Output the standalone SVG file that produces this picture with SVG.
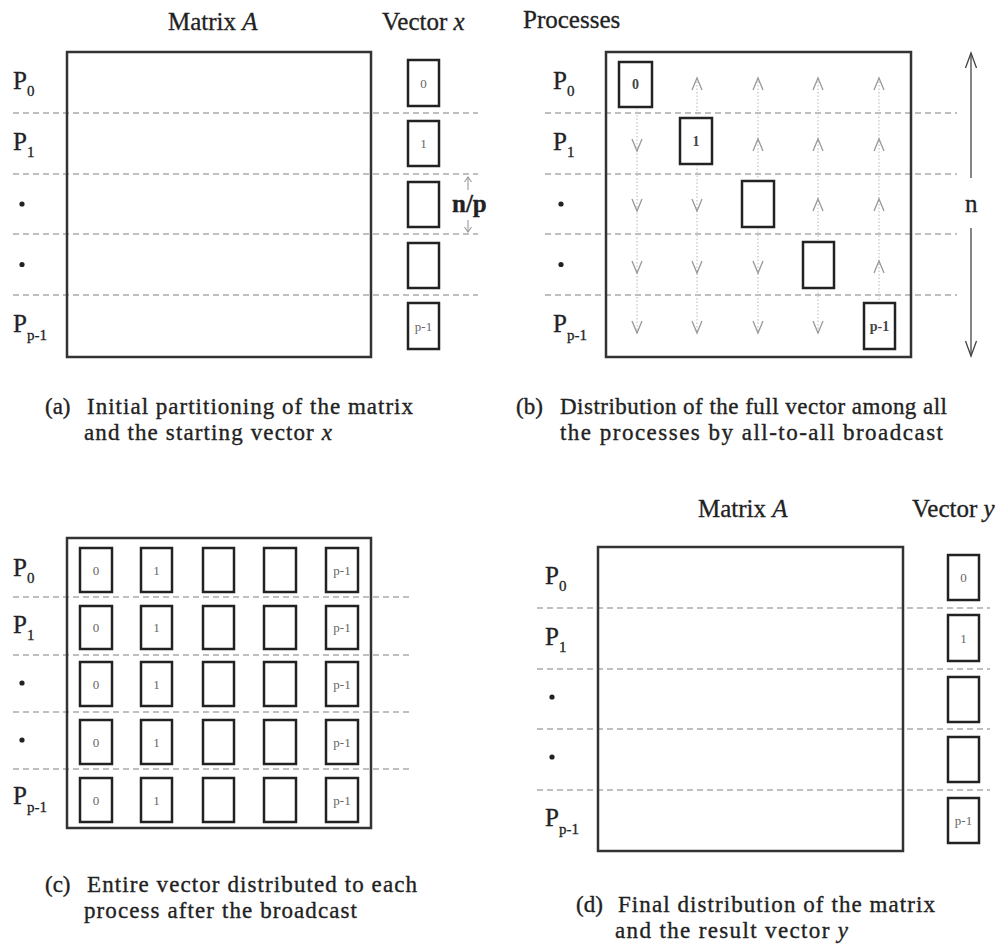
<svg xmlns="http://www.w3.org/2000/svg" width="1003" height="951" viewBox="0 0 1003 951">
<style>
.frame{fill:none;stroke:#333;stroke-width:2.5}
.box{fill:#fff;stroke:#222;stroke-width:2.5}
.dash{stroke:#aaa;stroke-width:1.5;stroke-dasharray:6 4}
.t{font-family:"Liberation Serif","Times New Roman",serif;fill:#222}
.lbl{font-size:25px;stroke:#222;stroke-width:0.3}
.sub{font-size:15px}
.num{font-size:13px;fill:#666;text-anchor:middle}
.numb{font-size:14px;fill:#444;text-anchor:middle;font-weight:bold}
.cap{font-size:23px;stroke:#222;stroke-width:0.35}
.chev{fill:none;stroke:#999;stroke-width:1.3}
.vdot{stroke:#c4c4c4;stroke-width:1.2;stroke-dasharray:1.5 2}
.dim{fill:none;stroke:#444;stroke-width:1.3}
.gdim{fill:none;stroke:#999;stroke-width:1.1}
.bul{fill:#222}
</style>
<rect width="1003" height="951" fill="#fff"/>

<!-- Panel (a) -->
<g id="panel-a">
  <g id="a-rows">
    <line class="dash" x1="13" y1="113" x2="478" y2="113"/>
    <line class="dash" x1="13" y1="174" x2="478" y2="174"/>
    <line class="dash" x1="13" y1="234" x2="478" y2="234"/>
    <line class="dash" x1="13" y1="295" x2="478" y2="295"/>
  </g>
  <g id="a-matrix"><rect class="frame" x="67" y="52" width="304" height="305"/></g>
  <text class="t lbl" x="168" y="30">Matrix <tspan font-style="italic">A</tspan></text>
  <text class="t lbl" x="382" y="30">Vector <tspan font-style="italic">x</tspan></text>
  <text class="t lbl" x="13" y="89">P<tspan class="sub" dy="7">0</tspan></text>
  <text class="t lbl" x="13" y="150">P<tspan class="sub" dy="7">1</tspan></text>
  <circle class="bul" cx="22" cy="204" r="2.6"/>
  <circle class="bul" cx="22" cy="264.5" r="2.6"/>
  <text class="t lbl" x="13" y="332">P<tspan class="sub" dy="8">p-1</tspan></text>
  <g id="a-x0"><rect class="box" x="408" y="60" width="31" height="46"/><text class="t num" x="423.5" y="88">0</text></g>
  <g id="a-x1"><rect class="box" x="408" y="121" width="31" height="45"/><text class="t num" x="423.5" y="148">1</text></g>
  <g id="a-x2"><rect class="box" x="408" y="182" width="31" height="45"/></g>
  <g id="a-x3"><rect class="box" x="408" y="243" width="31" height="45"/></g>
  <g id="a-x4"><rect class="box" x="408" y="303" width="31" height="46"/><text class="t num" x="423.5" y="331">p-1</text></g>
  <g id="a-np">
    <text class="t lbl" x="452" y="212" font-weight="bold">n/p</text>
  </g>
  <text class="t cap" x="45" y="414">(a)</text>
  <text class="t cap" x="87" y="414" textLength="326" lengthAdjust="spacing">Initial partitioning of the matrix</text>
  <text class="t cap" x="84" y="439.5" textLength="248" lengthAdjust="spacing">and the starting vector <tspan font-style="italic">x</tspan></text>
</g>

<!-- Panel (b) -->
<g id="panel-b">
  <g id="b-rows">
    <line class="dash" x1="545" y1="113" x2="957" y2="113"/>
    <line class="dash" x1="545" y1="174" x2="957" y2="174"/>
    <line class="dash" x1="545" y1="234" x2="957" y2="234"/>
    <line class="dash" x1="545" y1="295" x2="957" y2="295"/>
  </g>
  <g id="b-matrix"><rect class="frame" x="606" y="52" width="305" height="305"/></g>
  <text class="t lbl" x="523" y="28">Processes</text>
  <text class="t lbl" x="553" y="89">P<tspan class="sub" dy="7">0</tspan></text>
  <text class="t lbl" x="553" y="150">P<tspan class="sub" dy="7">1</tspan></text>
  <circle class="bul" cx="561" cy="204" r="2.6"/>
  <circle class="bul" cx="561" cy="264.5" r="2.6"/>
  <text class="t lbl" x="553" y="332">P<tspan class="sub" dy="8">p-1</tspan></text>
  <g id="b-x0"><rect class="box" x="619" y="62" width="33" height="45"/><text class="t numb" x="635.5" y="89">0</text></g>
  <g id="b-x1"><rect class="box" x="680" y="118" width="32" height="46"/><text class="t numb" x="696" y="146">1</text></g>
  <g id="b-x2"><rect class="box" x="742" y="181" width="32" height="46"/></g>
  <g id="b-x3"><rect class="box" x="803" y="242" width="31" height="46"/></g>
  <g id="b-x4"><rect class="box" x="864" y="303" width="31" height="46"/><text class="t numb" x="879.5" y="331">p-1</text></g>
  <text class="t lbl" x="965" y="212">n</text>
  <text class="t cap" x="516" y="414">(b)</text>
  <text class="t cap" x="560" y="414" textLength="387" lengthAdjust="spacing">Distribution of the full vector among all</text>
  <text class="t cap" x="560" y="439.5" textLength="383" lengthAdjust="spacing">the processes by all-to-all broadcast</text>
</g>

<!-- Panel (c) -->
<g id="panel-c">
  <g id="c-rows">
    <line class="dash" x1="13" y1="597" x2="413" y2="597"/>
    <line class="dash" x1="13" y1="655" x2="413" y2="655"/>
    <line class="dash" x1="13" y1="712" x2="413" y2="712"/>
    <line class="dash" x1="13" y1="769" x2="413" y2="769"/>
  </g>
  <g id="c-matrix"><rect class="frame" x="67" y="538" width="304" height="290"/></g>
  <text class="t lbl" x="13" y="576">P<tspan class="sub" dy="7">0</tspan></text>
  <text class="t lbl" x="13" y="633">P<tspan class="sub" dy="7">1</tspan></text>
  <circle class="bul" cx="22" cy="683" r="2.6"/>
  <circle class="bul" cx="22" cy="740" r="2.6"/>
  <text class="t lbl" x="13" y="804">P<tspan class="sub" dy="8">p-1</tspan></text>
  <g id="c-row0">
    <rect class="box" x="80" y="548" width="32" height="44"/><text class="t num" x="96" y="575">0</text>
    <rect class="box" x="141" y="548" width="31" height="44"/><text class="t num" x="156.5" y="575">1</text>
    <rect class="box" x="203" y="548" width="31" height="44"/>
    <rect class="box" x="264" y="548" width="32" height="44"/>
    <rect class="box" x="326" y="548" width="32" height="44"/><text class="t num" x="342" y="575">p-1</text>
  </g>
  <g id="c-row1">
    <rect class="box" x="80" y="606" width="32" height="43"/><text class="t num" x="96" y="632">0</text>
    <rect class="box" x="141" y="606" width="31" height="43"/><text class="t num" x="156.5" y="632">1</text>
    <rect class="box" x="203" y="606" width="31" height="43"/>
    <rect class="box" x="264" y="606" width="32" height="43"/>
    <rect class="box" x="326" y="606" width="32" height="43"/><text class="t num" x="342" y="632">p-1</text>
  </g>
  <g id="c-row2">
    <rect class="box" x="80" y="662" width="32" height="44"/><text class="t num" x="96" y="689">0</text>
    <rect class="box" x="141" y="662" width="31" height="44"/><text class="t num" x="156.5" y="689">1</text>
    <rect class="box" x="203" y="662" width="31" height="44"/>
    <rect class="box" x="264" y="662" width="32" height="44"/>
    <rect class="box" x="326" y="662" width="32" height="44"/><text class="t num" x="342" y="689">p-1</text>
  </g>
  <g id="c-row3">
    <rect class="box" x="80" y="720" width="32" height="44"/><text class="t num" x="96" y="747">0</text>
    <rect class="box" x="141" y="720" width="31" height="44"/><text class="t num" x="156.5" y="747">1</text>
    <rect class="box" x="203" y="720" width="31" height="44"/>
    <rect class="box" x="264" y="720" width="32" height="44"/>
    <rect class="box" x="326" y="720" width="32" height="44"/><text class="t num" x="342" y="747">p-1</text>
  </g>
  <g id="c-row4">
    <rect class="box" x="80" y="778" width="32" height="44"/><text class="t num" x="96" y="805">0</text>
    <rect class="box" x="141" y="778" width="31" height="44"/><text class="t num" x="156.5" y="805">1</text>
    <rect class="box" x="203" y="778" width="31" height="44"/>
    <rect class="box" x="264" y="778" width="32" height="44"/>
    <rect class="box" x="326" y="778" width="32" height="44"/><text class="t num" x="342" y="805">p-1</text>
  </g>
  <text class="t cap" x="45" y="892">(c)</text>
  <text class="t cap" x="87" y="892" textLength="330" lengthAdjust="spacing">Entire vector distributed to each</text>
  <text class="t cap" x="84" y="917.5" textLength="273" lengthAdjust="spacing">process after the broadcast</text>
</g>

<!-- Panel (d) -->
<g id="panel-d">
  <g id="d-rows">
    <line class="dash" x1="537" y1="608" x2="990" y2="608"/>
    <line class="dash" x1="537" y1="669" x2="990" y2="669"/>
    <line class="dash" x1="537" y1="729" x2="990" y2="729"/>
    <line class="dash" x1="537" y1="790" x2="990" y2="790"/>
  </g>
  <g id="d-matrix"><rect class="frame" x="598" y="547" width="305" height="304"/></g>
  <text class="t lbl" x="698" y="517">Matrix <tspan font-style="italic">A</tspan></text>
  <text class="t lbl" x="912" y="517">Vector <tspan font-style="italic">y</tspan></text>
  <text class="t lbl" x="545" y="584">P<tspan class="sub" dy="7">0</tspan></text>
  <text class="t lbl" x="545" y="645">P<tspan class="sub" dy="7">1</tspan></text>
  <circle class="bul" cx="552" cy="697" r="2.6"/>
  <circle class="bul" cx="552" cy="757" r="2.6"/>
  <text class="t lbl" x="545" y="826">P<tspan class="sub" dy="8">p-1</tspan></text>
  <g id="d-y0"><rect class="box" x="948" y="555" width="31" height="45"/><text class="t num" x="963.5" y="582">0</text></g>
  <g id="d-y1"><rect class="box" x="948" y="615" width="31" height="46"/><text class="t num" x="963.5" y="643">1</text></g>
  <g id="d-y2"><rect class="box" x="948" y="677" width="31" height="45"/></g>
  <g id="d-y3"><rect class="box" x="948" y="737" width="31" height="45"/></g>
  <g id="d-y4"><rect class="box" x="948" y="798" width="31" height="45"/><text class="t num" x="963.5" y="825">p-1</text></g>
  <text class="t cap" x="576" y="912">(d)</text>
  <text class="t cap" x="618" y="912" textLength="317" lengthAdjust="spacing">Final distribution of the matrix</text>
  <text class="t cap" x="615" y="937.5" textLength="233" lengthAdjust="spacing">and the result vector  <tspan font-style="italic">y</tspan></text>
</g>

<!-- Connectors: broadcast arrows and dimension arrows -->
<g id="connectors">
  <g id="np-arrows">
    <line class="gdim" x1="468" y1="177" x2="468" y2="190"/>
    <polyline class="gdim" points="464.5,182 468,177 471.5,182"/>
    <line class="gdim" x1="468" y1="220" x2="468" y2="232"/>
    <polyline class="gdim" points="464.5,227 468,232 471.5,227"/>
  </g>
  <g id="n-arrow">
    <line class="dim" x1="971" y1="53" x2="971" y2="178"/>
    <polyline class="dim" points="965.5,68 971,53 976.5,68"/>
    <line class="dim" x1="971" y1="228" x2="971" y2="356"/>
    <polyline class="dim" points="965.5,341 971,356 976.5,341"/>
  </g>
  <g id="broadcast-lines">
    <line class="vdot" x1="637" y1="108" x2="637" y2="333"/>
    <line class="vdot" x1="697" y1="78" x2="697" y2="117"/>
    <line class="vdot" x1="697" y1="165" x2="697" y2="333"/>
    <line class="vdot" x1="758" y1="78" x2="758" y2="180"/>
    <line class="vdot" x1="758" y1="228" x2="758" y2="333"/>
    <line class="vdot" x1="818" y1="78" x2="818" y2="241"/>
    <line class="vdot" x1="818" y1="289" x2="818" y2="333"/>
    <line class="vdot" x1="879" y1="78" x2="879" y2="302"/>
  </g>
  <g id="broadcast-heads">
    <polyline class="chev" points="632,139 637,151 642,139"/>
    <polyline class="chev" points="632,199 637,211 642,199"/>
    <polyline class="chev" points="632,261 637,273 642,261"/>
    <polyline class="chev" points="632,321 637,333 642,321"/>
    <polyline class="chev" points="692,90 697,78 702,90"/>
    <polyline class="chev" points="692,199 697,211 702,199"/>
    <polyline class="chev" points="692,261 697,273 702,261"/>
    <polyline class="chev" points="692,321 697,333 702,321"/>
    <polyline class="chev" points="753,90 758,78 763,90"/>
    <polyline class="chev" points="753,151 758,139 763,151"/>
    <polyline class="chev" points="753,261 758,273 763,261"/>
    <polyline class="chev" points="753,321 758,333 763,321"/>
    <polyline class="chev" points="813,90 818,78 823,90"/>
    <polyline class="chev" points="813,151 818,139 823,151"/>
    <polyline class="chev" points="813,211 818,199 823,211"/>
    <polyline class="chev" points="813,321 818,333 823,321"/>
    <polyline class="chev" points="874,90 879,78 884,90"/>
    <polyline class="chev" points="874,151 879,139 884,151"/>
    <polyline class="chev" points="874,211 879,199 884,211"/>
    <polyline class="chev" points="874,273 879,261 884,273"/>
  </g>
</g>
</svg>
